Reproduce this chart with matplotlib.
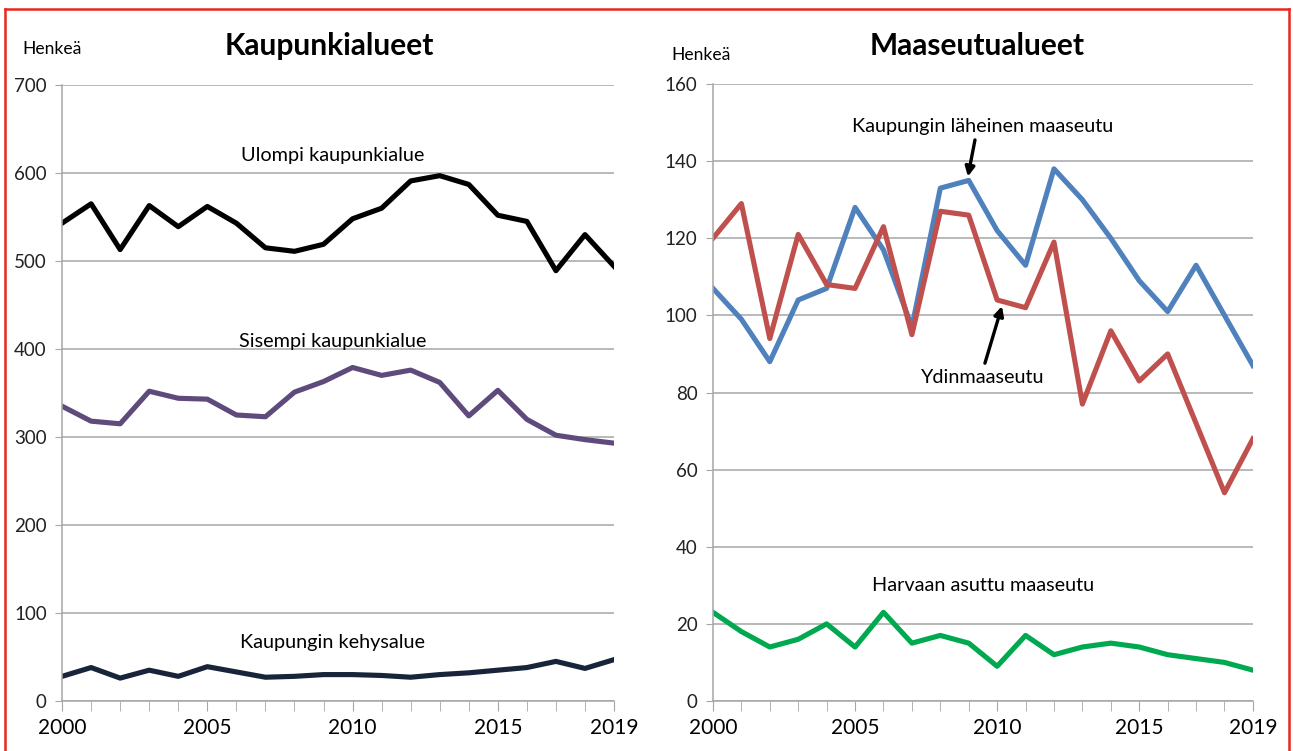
import numpy as np
import matplotlib.pyplot as plt
from matplotlib.lines import Line2D

years = list(range(2000, 2020))

ulompi = [543, 565, 513, 563, 539, 562, 543, 515, 511, 519, 548, 560, 591, 597, 587, 552, 545, 489, 530, 494]
sisempi = [335, 318, 315, 352, 344, 343, 325, 323, 351, 363, 379, 370, 376, 362, 324, 353, 320, 302, 297, 293]
kehys = [28, 38, 26, 35, 28, 39, 33, 27, 28, 30, 30, 29, 27, 30, 32, 35, 38, 45, 37, 47]

laheinen = [107, 99, 88, 104, 107, 128, 117, 97, 133, 135, 122, 113, 138, 130, 120, 109, 101, 113, 100, 87]
ydin = [120, 129, 94, 121, 108, 107, 123, 95, 127, 126, 104, 102, 119, 77, 96, 83, 90, 72, 54, 68]
harvaan = [23, 18, 14, 16, 20, 14, 23, 15, 17, 15, 9, 17, 12, 14, 15, 14, 12, 11, 10, 8]

xticks = [2000, 2005, 2010, 2015, 2019]

plt.rcParams['font.family'] = ['Lato', 'DejaVu Sans']

fig = plt.figure(figsize=(12.93, 7.51), dpi=100)
ax1 = fig.add_axes([0.0480, 0.0666, 0.4269, 0.8202])
ax2 = fig.add_axes([0.5514, 0.0666, 0.4176, 0.8215])

grid_c = '#a6a6a6'


def style(ax, ymax, ystep):
    ax.set_xlim(2000, 2019)
    ax.set_ylim(0, ymax)
    ax.set_yticks(np.arange(0, ymax + 1, ystep))
    ax.set_xticks(years, minor=True)
    ax.set_xticks(xticks)
    ax.yaxis.grid(True, color=grid_c, linewidth=1.1)
    ax.set_axisbelow(True)
    for s in ['top', 'right']:
        ax.spines[s].set_visible(False)
    for s in ['left', 'bottom']:
        ax.spines[s].set_color(grid_c)
        ax.spines[s].set_linewidth(1.1)
    ax.tick_params(axis='y', length=5, color=grid_c, labelsize=13.5, pad=6, labelcolor='#222222')
    ax.tick_params(axis='x', which='both', length=7, color=grid_c, labelsize=15, pad=5)


style(ax1, 700, 100)
style(ax2, 160, 20)

ax1.plot(years, ulompi, color='black', linewidth=3.7)
ax1.plot(years, sisempi, color='#5f4a7c', linewidth=3.7)
ax1.plot(years, kehys, color='#17243a', linewidth=3.7)

lab = dict(ha='center', va='center', fontsize=14.3)
ax1.text(2009.3, 620, 'Ulompi kaupunkialue', **lab)
ax1.text(2009.3, 408, 'Sisempi kaupunkialue', **lab)
ax1.text(2009.3, 66, 'Kaupungin kehysalue', **lab)

ax2.plot(years, laheinen, color='#4f81bd', linewidth=3.7)
ax2.plot(years, ydin, color='#c0504d', linewidth=3.7)
ax2.plot(years, harvaan, color='#00a94f', linewidth=3.7)

arrow = dict(arrowstyle='-|>', color='black', lw=2.4, mutation_scale=14, shrinkA=0, shrinkB=0)
ax2.text(2009.5, 149, 'Kaupungin läheinen maaseutu', **lab)
ax2.annotate('', xy=(2008.97, 136.0), xytext=(2009.22, 145.5), arrowprops=arrow)
ax2.text(2009.5, 83.8, 'Ydinmaaseutu', **lab)
ax2.annotate('', xy=(2010.17, 102.4), xytext=(2009.57, 87.6), arrowprops=arrow)
ax2.text(2009.5, 30, 'Harvaan asuttu maaseutu', **lab)

fig.text(0.017, 0.935, 'Henkeä', fontsize=12.6, va='center')
fig.text(0.519, 0.927, 'Henkeä', fontsize=12.6, va='center')
fig.text(0.255, 0.939, 'Kaupunkialueet', ha='center', va='center', fontsize=21.5, fontweight='bold')
fig.text(0.756, 0.939, 'Maaseutualueet', ha='center', va='center', fontsize=21.5, fontweight='bold')

# red frame around the whole picture (no bottom edge visible)
red = '#e8281e'
fig.add_artist(Line2D([0.004, 0.004], [0.0, 0.988], color=red, lw=1.8, transform=fig.transFigure))
fig.add_artist(Line2D([0.004, 0.997], [0.988, 0.988], color=red, lw=1.8, transform=fig.transFigure))
fig.add_artist(Line2D([0.997, 0.997], [0.0, 0.988], color=red, lw=1.8, transform=fig.transFigure))

fig.savefig('out.png', dpi=100)
